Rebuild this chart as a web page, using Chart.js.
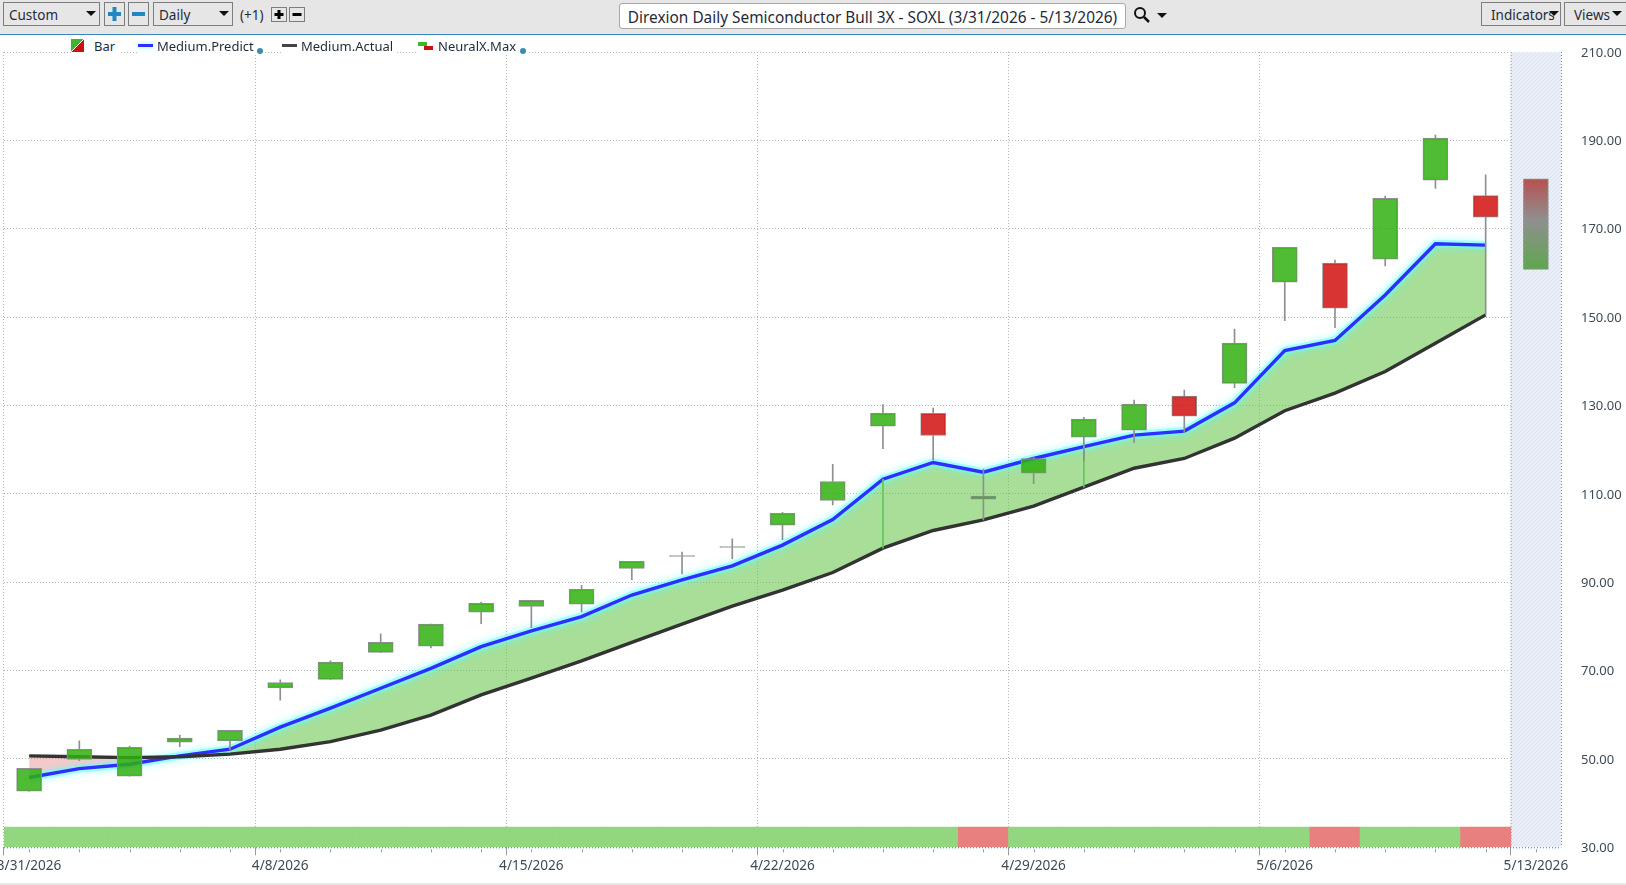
<!DOCTYPE html>
<html>
<head>
<meta charset="utf-8">
<title>SOXL</title>
<script src="https://cdn.jsdelivr.net/npm/chart.js@4"></script>
<style>
  html, body { margin: 0; padding: 0; background: #fff; overflow: hidden; }
  body { width: 1626px; height: 885px; position: relative; font-family: "Noto Sans", sans-serif; color: #1f2b3a; }
  canvas { position: absolute; left: 0; top: 0; }
  #toolbar { position: absolute; left: 0; top: 0; width: 1626px; height: 34px; background: #e6e6e6; border-bottom: 1.5px solid #3a87c0; }
  #toolbar .box { position: absolute; box-sizing: border-box; border: 1px solid #7d7d7d; height: 24px; top: 2px; font-size: 13.5px; line-height: 24px; padding-left: 5px; }
  #toolbar .caret { position: absolute; right: 3px; top: 8px; width: 0; height: 0; border-left: 5px solid transparent; border-right: 5px solid transparent; border-top: 5px solid #111; }
  #toolbar svg { position: absolute; left: 0; top: 0; }
  #toolbar .txt { position: absolute; font-size: 13.5px; line-height: 20px; white-space: nowrap; }
  #title { position: absolute; box-sizing: border-box; left: 619px; top: 3px; width: 507px; height: 26px; background: #fff; border: 1px solid #a8a8a8; border-radius: 3px; font-size: 15.4px; line-height: 27px; text-align: center; white-space: nowrap; }
  #legend div { position: absolute; top: 37px; height: 18px; background: #fff; font-size: 13px; line-height: 18px; white-space: nowrap; }
  #legend i { position: absolute; display: block; }
  #bottomline { position: absolute; left: 0; top: 883px; width: 1626px; height: 2px; background: #e8e8e8; }
</style>
</head>
<body>
<canvas id="soxlChart" width="1626" height="885"></canvas>

<div id="toolbar">
  <div class="box" style="left:3px;width:97px">Custom<span class="caret"></span></div>
  <div class="box" style="left:104px;width:21px"><svg width="19" height="22"><path d="M9.5 4v14M3 11h13" stroke="#1f87c4" stroke-width="4"/></svg></div>
  <div class="box" style="left:128px;width:21px"><svg width="19" height="22"><path d="M3 11h13" stroke="#1f87c4" stroke-width="4"/></svg></div>
  <div class="box" style="left:153px;width:80px">Daily<span class="caret"></span></div>
  <div class="txt" style="left:240px;top:5px">(+1)</div>
  <div class="box" style="left:271px;top:7px;width:16px;height:15px"><svg width="14" height="13"><path d="M7 2v9M2.5 6.5h9" stroke="#000" stroke-width="3"/></svg></div>
  <div class="box" style="left:289px;top:7px;width:16px;height:15px"><svg width="14" height="13"><path d="M2.5 6.5h9" stroke="#000" stroke-width="3"/></svg></div>
  <div id="title">Direxion Daily Semiconductor Bull 3X - SOXL (3/31/2026 - 5/13/2026)</div>
  <svg width="1626" height="34"><circle cx="1140" cy="13" r="5" fill="none" stroke="#111" stroke-width="2"/><path d="M1144 17l5 5" stroke="#111" stroke-width="2.5"/><path d="M1157 13h10l-5 5z" fill="#111"/></svg>
  <div class="box" style="left:1481px;width:80px;padding-left:9px">Indicators<span class="caret" style="right:1px"></span></div>
  <div class="box" style="left:1564px;width:62px;border-right:0;padding-left:9px">Views<span class="caret" style="right:4px"></span></div>
</div>

<div id="legend">
  <div style="left:71px;width:50px"><i style="left:0;top:2px;width:13px;height:13px;background:linear-gradient(135deg,#3fb528 0 48%,#fff 48% 52%,#cc0f0f 52%)"></i><span style="position:absolute;left:23px">Bar</span></div>
  <div style="left:137px;width:128px"><i style="left:1px;top:7px;width:15px;height:3px;background:#2e2eff;box-shadow:0 0 4px #6ff"></i><span style="position:absolute;left:20px">Medium.Predict</span><i style="left:120px;top:11px;width:6px;height:6px;border-radius:50%;background:#3c8cb0"></i></div>
  <div style="left:281px;width:116px"><i style="left:1px;top:7px;width:15px;height:3px;background:#444"></i><span style="position:absolute;left:20px">Medium.Actual</span></div>
  <div style="left:417px;width:112px"><i style="left:1px;top:5px;width:9px;height:4px;background:#3fb528"></i><i style="left:7px;top:9px;width:9px;height:4px;background:#cc0f0f"></i><span style="position:absolute;left:21px">NeuralX.Max</span><i style="left:103px;top:11px;width:6px;height:6px;border-radius:50%;background:#3c8cb0"></i></div>
</div>
<div id="bottomline"></div>

<script>
const dates = ["3/31/2026","4/1/2026","4/2/2026","4/6/2026","4/7/2026","4/8/2026","4/9/2026","4/10/2026","4/13/2026","4/14/2026",
  "4/15/2026","4/16/2026","4/17/2026","4/20/2026","4/21/2026","4/22/2026","4/23/2026","4/24/2026","4/27/2026","4/28/2026",
  "4/29/2026","4/30/2026","5/1/2026","5/4/2026","5/5/2026","5/6/2026","5/7/2026","5/8/2026","5/11/2026","5/12/2026","5/13/2026"];
const yTicks = [30, 50, 70, 90, 110, 130, 150, 170, 190, 210];

const opens  = [42.7,49.9,46.1,53.8,54.1,66.1,68.0,74.1,75.5,83.2,84.5,85.0,93.1,95.85,97.85,102.9,108.5,125.3,128.2,108.8,114.7,122.8,124.4,132.1,135.0,157.9,162.2,163.1,181.0,177.5];
const closes = [47.9,52.2,52.6,54.7,56.5,67.3,71.9,76.4,80.5,85.2,85.9,88.4,94.7,96.05,98.05,105.6,112.8,128.2,123.2,109.5,118.0,126.9,130.3,127.6,144.1,165.8,152.0,176.9,190.5,172.6];
const highs  = [47.9,54.1,52.9,55.4,56.5,67.9,72.2,78.3,80.5,85.5,85.9,89.3,94.7,96.8,99.8,105.8,116.7,130.2,129.4,115.6,118.3,127.3,131.2,133.5,147.3,165.8,162.9,177.4,191.2,182.2];
const lows   = [42.7,49.6,46.1,52.8,52.0,63.3,68.0,74.1,75.1,80.6,79.7,83.3,90.6,91.9,95.3,99.6,107.5,120.2,117.7,104.1,112.3,117.5,121.6,123.8,134.0,149.2,147.6,161.6,179.1,150.5];

const predict = [45.8,47.8,48.8,50.7,52.2,57.2,61.5,66.0,70.5,75.4,79.0,82.2,87.1,90.5,93.7,98.4,104.2,113.3,117.1,114.9,118.0,120.7,123.3,124.2,130.6,142.4,144.7,155.0,166.6,166.3];
const actual  = [50.7,50.5,50.3,50.5,51.1,52.2,53.9,56.5,59.9,64.5,68.3,72.2,76.4,80.5,84.6,88.2,92.2,97.7,101.7,104.1,107.2,111.5,115.8,118.0,122.6,128.8,132.8,137.7,144.1,150.5];

// 1 = green block in the strip along the bottom, -1 = red
const signal = [1,1,1,1,1,1,1,1,1,1,1,1,1,1,1,1,1,1,1,-1,1,1,1,1,1,1,-1,1,1,-1];
const signalRange = [30, 34.6];
const neuralDays = [17, 21];
const forecastRange = [160.8, 181.3];

const GREEN = "rgba(48,176,16,0.85)";
const RED = "rgba(209,16,16,0.85)";
const GRAY = "#8f8f8f";

function hatchPattern() {
  const c = document.createElement("canvas");
  c.width = 4; c.height = 4;
  const g = c.getContext("2d");
  g.fillStyle = "#edf1f8";
  g.fillRect(0, 0, 4, 4);
  g.strokeStyle = "#dbe3f1";
  g.lineWidth = 1.2;
  g.beginPath();
  g.moveTo(0, 4); g.lineTo(4, 0);
  g.moveTo(-1, 1); g.lineTo(1, -1);
  g.moveTo(3, 5); g.lineTo(5, 3);
  g.stroke();
  return g.createPattern(c, "repeat");
}

function forecastFill(ctx) {
  const { chart } = ctx;
  if (!chart.chartArea) return GRAY;
  const y = chart.scales.y;
  const grad = chart.ctx.createLinearGradient(0, y.getPixelForValue(forecastRange[1]), 0, y.getPixelForValue(forecastRange[0]));
  grad.addColorStop(0, "#b85050");
  grad.addColorStop(0.45, "#8f8f8f");
  grad.addColorStop(1, "#5fa64f");
  return grad;
}

// the cyan halo around the prediction line
const glowPlugin = {
  id: "glow",
  beforeDatasetDraw(chart, args) {
    if (!chart.data.datasets[args.index].glow) return;
    chart.ctx.save();
    chart.ctx.shadowColor = "rgba(90,255,255,1)";
    chart.ctx.shadowBlur = 10;
  },
  afterDatasetDraw(chart, args) {
    if (chart.data.datasets[args.index].glow) chart.ctx.restore();
  },
};

// small ticks under each bar and the dotted blue frame bottom/right
const framePlugin = {
  id: "frame",
  afterDatasetsDraw(chart) {
    const { ctx, chartArea: a, scales: { x } } = chart;
    ctx.save();
    ctx.strokeStyle = "#999";
    ctx.lineWidth = 1;
    ctx.beginPath();
    dates.forEach((d, i) => {
      const px = Math.round(x.getPixelForValue(i)) + 0.5;
      ctx.moveTo(px, a.bottom + 2);
      ctx.lineTo(px, a.bottom + 5);
    });
    ctx.stroke();
    ctx.strokeStyle = "#3a94d0";
    ctx.setLineDash([1, 2]);
    ctx.beginPath();
    ctx.moveTo(a.left, a.bottom + 0.5);
    ctx.lineTo(a.right, a.bottom + 0.5);
    ctx.moveTo(a.right + 0.5, a.top);
    ctx.lineTo(a.right + 0.5, a.bottom);
    ctx.stroke();
    ctx.strokeStyle = "#b5b5b5";
    ctx.beginPath();
    const fx = Math.round(x.getPixelForValue(dates.length - 1) - (x.getPixelForValue(1) - x.getPixelForValue(0)) / 2) + 0.5;
    ctx.moveTo(fx, a.top);
    ctx.lineTo(fx, a.bottom);
    ctx.stroke();
    ctx.restore();
  },
};

const thinBar = { type: "bar", grouped: false, barThickness: 1, backgroundColor: GRAY, borderWidth: 0 };

new Chart(document.getElementById("soxlChart"), {
  data: {
    labels: dates,
    datasets: [
      {
        type: "bar", label: "Signal", grouped: false, order: 7, barPercentage: 1, categoryPercentage: 1,
        data: signal.map(s => signalRange),
        backgroundColor: signal.map(s => (s > 0 ? "#93d680" : "#e98080")),
      },
      {
        type: "bar", label: "Forecast area", grouped: false, order: 7, barPercentage: 1, categoryPercentage: 1,
        data: dates.map((d, i) => (i === dates.length - 1 ? [30, 210] : null)),
        backgroundColor: hatchPattern(),
      },
      {
        type: "line", label: "Medium.Predict", order: 5, glow: true,
        data: predict,
        borderColor: "#2e2eff", borderWidth: 3.4, pointRadius: 0, tension: 0,
        fill: { target: 4, above: "rgba(97,195,68,0.55)", below: "rgba(230,120,120,0.4)" },
      },
      {
        type: "line", label: "Predict halo", order: 6,
        data: predict,
        borderColor: "rgba(110,255,250,0.5)", borderWidth: 8, pointRadius: 0, tension: 0,
      },
      {
        type: "line", label: "Medium.Actual", order: 4,
        data: actual,
        borderColor: "#333", borderWidth: 3.4, pointRadius: 0, tension: 0,
      },
      {
        ...thinBar, label: "NeuralX.Max", order: 3, backgroundColor: "#62c85a",
        data: predict.map((p, i) => (neuralDays.includes(i) ? [actual[i], p] : null)),
      },
      {
        ...thinBar, label: "Upper wick", order: 2,
        data: highs.map((h, i) => [Math.max(opens[i], closes[i]), h]),
      },
      {
        ...thinBar, label: "Lower wick", order: 2,
        data: lows.map((l, i) => [l, Math.min(opens[i], closes[i])]),
      },
      {
        type: "bar", label: "Bar", grouped: false, order: 1, barThickness: 25,
        data: opens.map((o, i) => [o, closes[i]]),
        backgroundColor: opens.map((o, i) => (Math.abs(closes[i] - o) < 0.3 ? GRAY : closes[i] >= o ? GREEN : RED)),
        borderColor: GRAY, borderWidth: 1, borderSkipped: false,
      },
      {
        type: "bar", label: "Forecast", grouped: false, order: 1, barThickness: 25,
        data: dates.map((d, i) => (i === dates.length - 1 ? forecastRange : null)),
        backgroundColor: forecastFill,
        borderColor: GRAY, borderWidth: 1, borderSkipped: false,
      },
    ],
  },
  options: {
    responsive: false,
    animation: false,
    devicePixelRatio: 1,
    layout: { padding: { left: 4, top: 52, right: 0, bottom: 0 } },
    plugins: {
      legend: { display: false },
      tooltip: { enabled: false },
      filler: { drawTime: "beforeDatasetsDraw" },
    },
    scales: {
      x: {
        type: "category",
        offset: true,
        border: { display: false, dash: [1, 2] },
        grid: {
          offset: true,
          color: c => (c.index % 5 === 0 ? (c.index === dates.length ? "transparent" : "#b5b5b5") : "transparent"),
          tickColor: c => (c.index % 5 === 0 ? "#999" : "transparent"),
          tickLength: 8,
        },
        ticks: {
          autoSkip: false,
          maxRotation: 0,
          padding: 3,
          color: "#3f4a58",
          font: { family: "Noto Sans", size: 13.6 },
          callback(value, index) { return index % 5 === 0 ? dates[index] : ""; },
        },
        afterFit(scale) { scale.height = 37.7; scale.paddingLeft = 0; scale.paddingRight = 0; },
      },
      y: {
        position: "right",
        min: yTicks[0],
        max: yTicks[yTicks.length - 1],
        border: { display: false, dash: [1, 2] },
        grid: { color: "#b5b5b5", drawTicks: false },
        ticks: {
          stepSize: 20,
          padding: 20,
          labelOffset: 1,
          color: "#3f4a58",
          font: { family: "Noto Sans", size: 13 },
          callback: v => v.toFixed(2),
        },
        afterFit(scale) { scale.width = 65; scale.paddingTop = 0; scale.paddingBottom = 0; },
      },
    },
  },
  plugins: [glowPlugin, framePlugin],
});
</script>
</body>
</html>
